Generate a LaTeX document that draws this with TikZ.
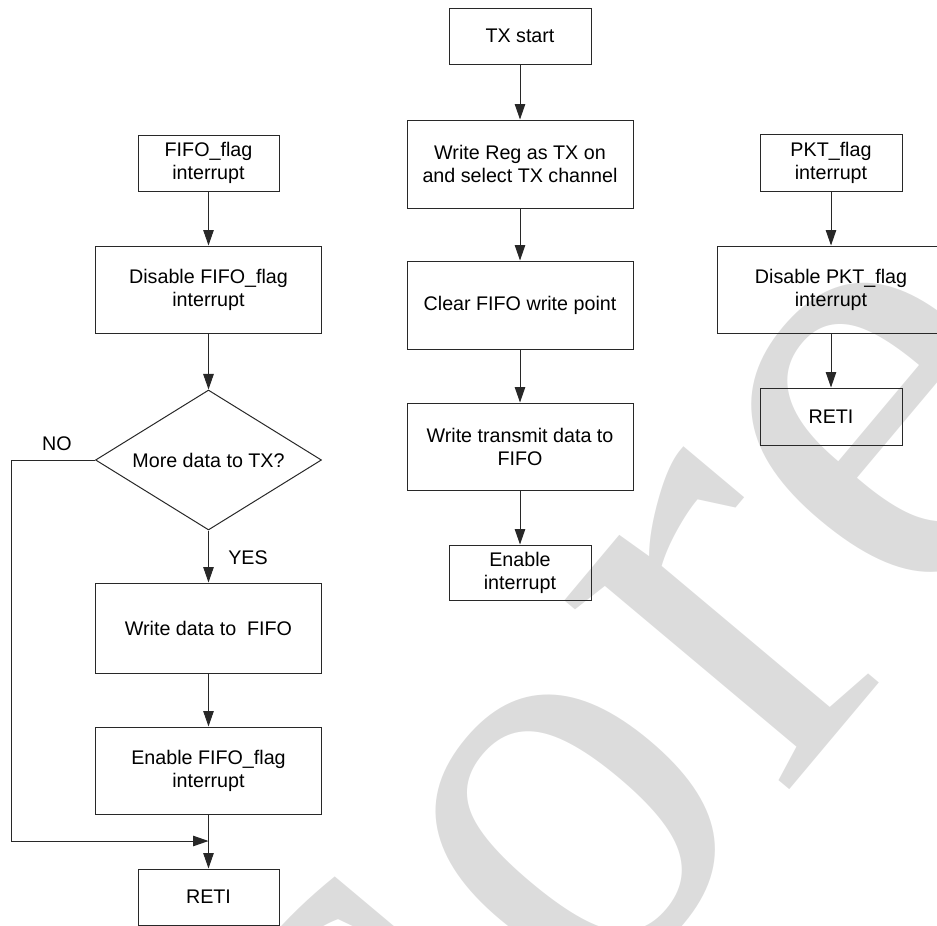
\documentclass[tikz,border=0pt]{standalone}
\usepackage{fontspec}
\usepackage{graphicx}
\setmainfont{Liberation Sans}
\newfontfamily\wmfont{Liberation Serif}
\usetikzlibrary{arrows.meta,shapes.geometric}
\definecolor{wm}{RGB}{220,220,220}
\definecolor{ln}{RGB}{40,40,40}
\begin{document}
\begin{tikzpicture}[x=1pt,y=-1pt,
  txt/.style={font=\fontsize{19.7}{23}\selectfont, text=black},
  box/.style={txt, draw=ln, line width=1pt, align=center, inner sep=0pt},
  bigbox/.style={box, minimum width=226pt, minimum height=87pt},
  smallbox/.style={box, minimum width=141pt, minimum height=56pt},
  decision/.style={txt, diamond, draw=ln, line width=1pt, aspect=1.614, inner sep=0pt, minimum width=226pt, minimum height=140pt},
  arr/.style={draw=ln, line width=1pt, -{Triangle[length=15.5pt,width=10.5pt]}},
  wmtext/.style={font=\wmfont\fontsize{640}{640}\selectfont, text=wm, inner sep=0pt}
]
\useasboundingbox (0,0) rectangle (937,926);
% watermark
\begin{scope}
  \clip (0,0) rectangle (937,926);
  \node[wmtext, rotate=50, anchor=base west] (wmk) at (393,1262) {c\hbox to 0.5em{\hss\hskip 8pt\scalebox{0.86}[0.93]{o}\hss}re};
\end{scope}
% left column
\node[smallbox] (f1) at (208.5,163) {FIFO\_flag\\interrupt};
\node[bigbox] (f2) at (208.5,289.5) {Disable FIFO\_flag\\interrupt};
\node[decision] (f3) at (208.5,460) {More data to TX?};
\node[bigbox, minimum height=90pt] (f4) at (208.5,628) {Write data to\ \ FIFO};
\node[bigbox] (f5) at (208.5,770.5) {Enable FIFO\_flag\\interrupt};
\node[smallbox] (f6) at (208.5,897) {RETI};
\node[txt] (no) at (57,444) {NO};
\node[txt] (yes) at (248,558) {YES};
\coordinate (nl) at (11,460);
\coordinate (mg) at (208.5,841);
\draw[arr] (f1) -- (f2);
\draw[arr] (f2) -- (f3);
\draw[arr] (f3) -- (f4);
\draw[arr] (f4) -- (f5);
\draw[arr] (f5) -- (f6);
\draw[arr] (f3.west) -- (nl) |- (mg);
% middle column
\node[smallbox, minimum width=142pt] (m1) at (520,36) {TX start};
\node[bigbox, minimum height=88pt] (m2) at (520,164) {Write Reg as TX on\\and select TX channel};
\node[bigbox, minimum height=88pt] (m3) at (520,305) {Clear FIFO write point};
\node[bigbox] (m4) at (520,446.5) {Write transmit data to\\FIFO};
\node[smallbox, minimum width=142pt, minimum height=55pt] (m5) at (520,572.5) {Enable\\interrupt};
\draw[arr] (m1) -- (m2);
\draw[arr] (m2) -- (m3);
\draw[arr] (m3) -- (m4);
\draw[arr] (m4) -- (m5);
% right column
\node[smallbox, minimum width=142pt, minimum height=57pt] (r1) at (831,162.5) {PKT\_flag\\interrupt};
\node[bigbox, minimum width=227pt] (r2) at (831,289.5) {Disable PKT\_flag\\interrupt};
\node[smallbox, minimum width=142pt, minimum height=57pt] (r3) at (831,416.5) {RETI};
\draw[arr] (r1) -- (r2);
\draw[arr] (r2) -- (r3);
\end{tikzpicture}
\end{document}
